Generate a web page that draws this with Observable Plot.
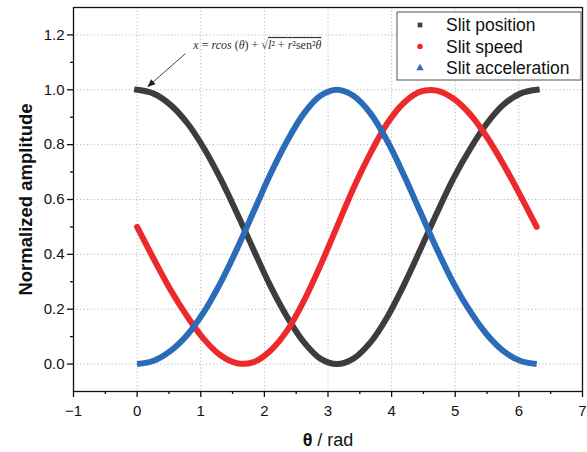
<!DOCTYPE html>
<html><head><meta charset="utf-8">
<script src="https://cdn.jsdelivr.net/npm/d3@7"></script>
<script src="https://cdn.jsdelivr.net/npm/@observablehq/plot@0.6"></script>
<style>
body{margin:0;background:#fff;}
#chart{width:587px;height:452px;}
</style></head><body><div id="chart"></div>
<script>
// ---- data ----
const theta = [0, 0.26, 0.52, 0.79, 1.05, 1.31, 1.57, 1.83, 2.09, 2.36, 2.62, 2.88, 3.14,
               3.40, 3.67, 3.93, 4.19, 4.45, 4.71, 4.97, 5.24, 5.50, 5.76, 6.02, 6.28];
const position = [1.000, 0.986, 0.946, 0.878, 0.787, 0.676, 0.550, 0.417, 0.287, 0.171, 0.080, 0.020, 0.000,
                  0.020, 0.080, 0.171, 0.287, 0.417, 0.550, 0.676, 0.787, 0.878, 0.946, 0.986, 1.000];
const speed = [0.500, 0.384, 0.273, 0.173, 0.091, 0.032, 0.003, 0.007, 0.048, 0.123, 0.230, 0.359, 0.500,
               0.641, 0.770, 0.877, 0.952, 0.993, 0.997, 0.968, 0.909, 0.827, 0.727, 0.616, 0.500];
const acceleration = [0.000, 0.012, 0.047, 0.107, 0.190, 0.296, 0.420, 0.555, 0.690, 0.814, 0.913, 0.978, 1.000,
                      0.978, 0.913, 0.814, 0.690, 0.555, 0.420, 0.296, 0.190, 0.107, 0.047, 0.012, 0.000];
const seriesNames = ["Slit position", "Slit speed", "Slit acceleration"];
const seriesColors = ["#3d3d3d", "#ec2a2c", "#2b6cb8"];
const xTicks = [-1, 0, 1, 2, 3, 4, 5, 6, 7];
const xMinorTicks = [-0.5, 0.5, 1.5, 2.5, 3.5, 4.5, 5.5, 6.5];
const xGridTicks = [0, 1, 2, 3, 4, 5, 6];
const yTicks = [0, 0.2, 0.4, 0.6, 0.8, 1.0, 1.2];
const yMinorTicks = [0.1, 0.3, 0.5, 0.7, 0.9, 1.1];
const xLabel = "θ / rad";
const yLabel = "Normalized amplitude";
const annotationText = "x = rcos (θ) + √l² + r²sen²θ";
const annotationAt = [1.89, 1.163];
const arrowFrom = [0.76, 1.132];
const arrowTo = [0.17, 1.012];

// ---- build table ----
const seriesValues = [position, speed, acceleration];
const rows = seriesNames.flatMap((name, s) => theta.map((t, i) => ({theta: t, value: seriesValues[s][i], series: name})));
const bySeries = name => rows.filter(d => d.series === name);
const font = "'Liberation Sans', Arial, sans-serif";
const gridStyle = {stroke: "#b8b8b8", strokeOpacity: 1, strokeDasharray: "1.2,2.3", strokeWidth: 1};

const chart = Plot.plot({
  width: 587, height: 452,
  marginLeft: 73, marginRight: 5, marginTop: 7, marginBottom: 61,
  x: {domain: [-1, 7]},
  y: {domain: [-0.1, 1.3]},
  color: {domain: seriesNames, range: seriesColors},
  style: {fontFamily: font, background: "white", color: "#111", overflow: "visible"},
  marks: [
    Plot.gridX(xGridTicks, gridStyle),
    Plot.gridY(yTicks, gridStyle),
    Plot.line(bySeries(seriesNames[0]), {x: "theta", y: "value", stroke: "series", strokeWidth: 6, curve: "catmull-rom", strokeLinecap: "square"}),
    Plot.line(bySeries(seriesNames[1]), {x: "theta", y: "value", stroke: "series", strokeWidth: 6, curve: "catmull-rom", strokeLinecap: "round"}),
    Plot.line(bySeries(seriesNames[2]), {x: "theta", y: "value", stroke: "series", strokeWidth: 6, curve: "catmull-rom", strokeLinecap: "butt"}),
    Plot.frame({stroke: "#111", strokeWidth: 1.3}),
    Plot.axisX(xTicks, {tickSize: 6, tickPadding: 8, fontSize: 15, strokeWidth: 1.3,
      tickFormat: d => d < 0 ? `−${-d}` : `${d}`, label: null}),
    Plot.axisX(xMinorTicks, {tickSize: 3, strokeWidth: 1.3, tickFormat: () => "", label: null}),
    Plot.axisY(yTicks, {tickSize: 6, tickPadding: 3, fontSize: 15, strokeWidth: 1.3,
      tickFormat: d3.format(".1f"), label: null}),
    Plot.axisY(yMinorTicks, {tickSize: 3, strokeWidth: 1.3, tickFormat: () => "", label: null}),
    Plot.text([xLabel], {frameAnchor: "bottom", dy: 54, fontSize: 18, fill: "#111", textAnchor: "middle"}),
    Plot.text([yLabel], {frameAnchor: "left", dx: -47, rotate: -90, fontSize: 18.5, fontWeight: "bold", fill: "#111", textAnchor: "middle"}),
    Plot.link([{x1: arrowFrom[0], y1: arrowFrom[1], x2: arrowTo[0], y2: arrowTo[1]}],
      {x1: "x1", y1: "y1", x2: "x2", y2: "y2", stroke: "#333", strokeWidth: 0.9}),
    Plot.text([{x: annotationAt[0], y: annotationAt[1], text: annotationText}],
      {x: "x", y: "y", text: "text", fontSize: 12, fontFamily: "'Liberation Serif', 'DejaVu Serif', serif", fill: "#333"})
  ]
});
document.getElementById("chart").appendChild(chart);

const svg = d3.select(chart);
// arrow head
const defs = svg.append("defs");
defs.append("marker").attr("id", "ahead").attr("viewBox", "0 0 10 10").attr("refX", 9).attr("refY", 5)
  .attr("markerWidth", 9).attr("markerHeight", 8).attr("markerUnits", "userSpaceOnUse").attr("orient", "auto")
  .append("path").attr("d", "M0,0.8L10,5L0,9.2z").attr("fill", "#222");
svg.selectAll("g[aria-label=link] path, g[aria-label=link] line").attr("marker-end", "url(#ahead)");

// bold theta in x label
svg.selectAll("text").filter(function() { return this.textContent === xLabel; }).each(function() {
  const t = d3.select(this); t.text("");
  t.append("tspan").attr("font-weight", "bold").text("θ");
  t.append("tspan").text(" / rad");
});
// formula styling
svg.selectAll("text").filter(function() { return this.textContent === annotationText; }).each(function() {
  const t = d3.select(this); t.text("");
  const it = s => t.append("tspan").attr("font-style", "italic").text(s);
  const up = s => t.append("tspan").text(s);
  it("x"); up(" = "); it("rcos"); up(" ("); it("θ"); up(") + √");
  const rad = t.append("tspan").style("text-decoration", "overline");
  rad.append("tspan").attr("font-style", "italic").text("l");
  rad.append("tspan").text("² + ");
  rad.append("tspan").attr("font-style", "italic").text("r");
  rad.append("tspan").text("²sen²");
  rad.append("tspan").attr("font-style", "italic").text("θ");
});

// legend
const lx = 587 - 5 - 185, ly = 12;
const lg = svg.append("g").attr("font-family", font).attr("text-anchor", "start");
lg.append("rect").attr("x", lx).attr("y", ly).attr("width", 184).attr("height", 68)
  .attr("fill", "white").attr("stroke", "#555").attr("stroke-width", 1);
const sym = [d3.symbolSquare, d3.symbolCircle, d3.symbolTriangle];
const symSize = [22, 24, 24];
seriesNames.forEach((name, i) => {
  const cy = ly + 13 + i * 21.5;
  lg.append("path").attr("d", d3.symbol(sym[i], symSize[i])()).attr("transform", `translate(${lx + 23},${cy})`)
    .attr("fill", seriesColors[i]);
  lg.append("text").attr("x", lx + 49).attr("y", cy).attr("dy", "0.35em").attr("font-size", 17.5)
    .attr("text-anchor", "start").attr("fill", "#111").text(name);
});
</script></body></html>
